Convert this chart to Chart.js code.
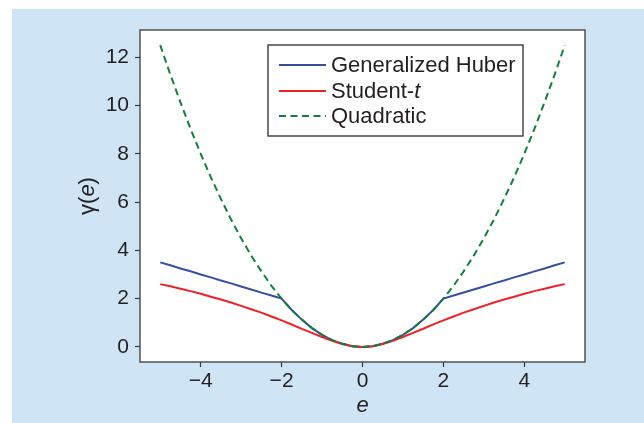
<!DOCTYPE html>
<html>
<head>
<meta charset="utf-8">
<script src="https://cdn.jsdelivr.net/npm/chart.js@4"></script>
<style>
  html, body { margin:0; padding:0; background:#fff; }
  #wrap { position:relative; width:644px; height:423px; }
</style>
</head>
<body>
<div id="wrap"><canvas id="lossChart" width="644" height="423"></canvas></div>
<script>
// ============ DATA ============
const errors    = [-5,-4.75,-4.5,-4.25,-4,-3.75,-3.5,-3.25,-3,-2.75,-2.5,-2.25,-2,-1.75,-1.5,-1.25,-1,-0.75,-0.5,-0.25,0,
                   0.25,0.5,0.75,1,1.25,1.5,1.75,2,2.25,2.5,2.75,3,3.25,3.5,3.75,4,4.25,4.5,4.75,5];
const huber     = [3.5,3.38,3.25,3.13,3.0,2.88,2.75,2.63,2.5,2.38,2.25,2.13,2.0,1.53,1.13,0.78,0.5,0.28,0.13,0.03,0,
                   0.03,0.13,0.28,0.5,0.78,1.13,1.53,2.0,2.13,2.25,2.38,2.5,2.63,2.75,2.88,3.0,3.13,3.25,3.38,3.5];
const studentT  = [2.6,2.51,2.41,2.31,2.2,2.08,1.96,1.84,1.7,1.56,1.42,1.26,1.1,0.93,0.75,0.58,0.41,0.25,0.12,0.03,0,
                   0.03,0.12,0.25,0.41,0.58,0.75,0.93,1.1,1.26,1.42,1.56,1.7,1.84,1.96,2.08,2.2,2.31,2.41,2.51,2.6];
const quadratic = [12.5,11.28,10.13,9.03,8.0,7.03,6.13,5.28,4.5,3.78,3.13,2.53,2.0,1.53,1.13,0.78,0.5,0.28,0.13,0.03,0,
                   0.03,0.13,0.28,0.5,0.78,1.13,1.53,2.0,2.53,3.13,3.78,4.5,5.28,6.13,7.03,8.0,9.03,10.13,11.28,12.5];
const seriesNames = ['Generalized Huber','Student-','Quadratic'];
const xTicks = [-4,-2,0,2,4];
const yTicks = [0,2,4,6,8,10,12];

const FONT = '"Liberation Sans", Arial, Helvetica, sans-serif';
const INK = '#231f20';
const COLORS = ['#3550a2','#ec2227','#137f3b'];

const pts = arr => errors.map((e,i)=>({x:e, y:arr[i]}));

// blue panel + white plot area
const backdrop = {
  id:'backdrop',
  beforeDraw(chart) {
    const {ctx, chartArea:a} = chart;
    ctx.save();
    ctx.fillStyle = '#fff';
    ctx.fillRect(0,0,chart.width,chart.height);
    ctx.fillStyle = '#cfe4f5';
    ctx.fillRect(12,9,chart.width-12,chart.height-9);
    ctx.fillStyle = '#fff';
    ctx.fillRect(a.left,a.top,a.right-a.left,a.bottom-a.top);
    ctx.restore();
  },
  afterDraw(chart) {
    const {ctx, chartArea:a} = chart;
    ctx.save();
    // frame
    ctx.strokeStyle = '#3a3a3a';
    ctx.lineWidth = 1.3;
    ctx.strokeRect(a.left,a.top,a.right-a.left,a.bottom-a.top);

    // axis titles
    ctx.fillStyle = INK;
    ctx.textBaseline = 'middle';
    ctx.font = 'italic 22px ' + FONT;
    ctx.textAlign = 'center';
    ctx.fillText('e', (a.left+a.right)/2, 406);

    ctx.save();
    ctx.translate(88,(a.top+a.bottom)/2);
    ctx.rotate(-Math.PI/2);
    const p1 = 'γ(', p3 = ')';
    ctx.font = '22px ' + FONT; const w1 = ctx.measureText(p1).width, w3 = ctx.measureText(p3).width;
    ctx.font = 'italic 22px ' + FONT; const w2 = ctx.measureText('e').width;
    let x = -(w1+w2+w3)/2;
    ctx.textAlign = 'left';
    ctx.font = '22px ' + FONT; ctx.fillText(p1,x,0); x += w1;
    ctx.font = 'italic 22px ' + FONT; ctx.fillText('e',x,0); x += w2;
    ctx.font = '22px ' + FONT; ctx.fillText(p3,x,0);
    ctx.restore();

    // legend
    const L = 268, T = 45, R = 523, B = 136;
    ctx.fillStyle = '#fff';
    ctx.fillRect(L,T,R-L,B-T);
    ctx.strokeStyle = '#2a2a2a';
    ctx.lineWidth = 1.3;
    ctx.strokeRect(L,T,R-L,B-T);
    const rows = [65,91,116];
    chart.data.datasets.forEach((ds,i) => {
      ctx.beginPath();
      ctx.strokeStyle = ds.borderColor;
      ctx.lineWidth = 2;
      ctx.setLineDash(ds.borderDash || []);
      ctx.moveTo(279,rows[i]); ctx.lineTo(326,rows[i]);
      ctx.stroke();
      ctx.setLineDash([]);
      ctx.fillStyle = INK;
      ctx.textAlign = 'left';
      ctx.font = '22px ' + FONT;
      ctx.fillText(seriesNames[i],331,rows[i]+1);
      if (i === 1) {
        const w = ctx.measureText(seriesNames[i]).width;
        ctx.font = 'italic 22px ' + FONT;
        ctx.fillText('t',331+w,rows[i]+1);
      }
    });
    ctx.restore();
  }
};

new Chart(document.getElementById('lossChart'), {
  type:'line',
  data:{ datasets:[
    { label:'Generalized Huber', data:pts(huber), borderColor:COLORS[0], borderWidth:2, order:2 },
    { label:'Student-t', data:pts(studentT), borderColor:COLORS[1], borderWidth:2, order:1 },
    { label:'Quadratic', data:pts(quadratic), borderColor:COLORS[2], borderWidth:2, borderDash:[7,4.5], order:0 }
  ]},
  options:{
    responsive:false, animation:false,
    layout:{ padding:{ left:0, top:30, right:59, bottom:0 } },
    elements:{ point:{ radius:0 }, line:{ tension:0, fill:false } },
    plugins:{ legend:{display:false}, tooltip:{enabled:false} },
    scales:{
      x:{
        type:'linear', min:-5.5, max:5.5,
        afterFit: s => { s.height = 61; },
        afterBuildTicks: s => { s.ticks = xTicks.map(v=>({value:v})); },
        grid:{ drawOnChartArea:false, drawTicks:true, tickLength:5, color:'#3a3a3a', tickWidth:1.2 },
        border:{ display:false },
        ticks:{ color:INK, font:{family:FONT,size:21}, padding:2, maxRotation:0,
                callback: v => String(v).replace('-','\u2212') }
      },
      y:{
        type:'linear', min:-0.625, max:13.125,
        afterFit: s => { s.width = 140; },
        afterBuildTicks: s => { s.ticks = yTicks.map(v=>({value:v})); },
        grid:{ drawOnChartArea:false, drawTicks:true, tickLength:5, color:'#3a3a3a', tickWidth:1.2 },
        border:{ display:false },
        ticks:{ color:INK, font:{family:FONT,size:21}, padding:6 }
      }
    }
  },
  plugins:[backdrop]
});
</script>
</body>
</html>
